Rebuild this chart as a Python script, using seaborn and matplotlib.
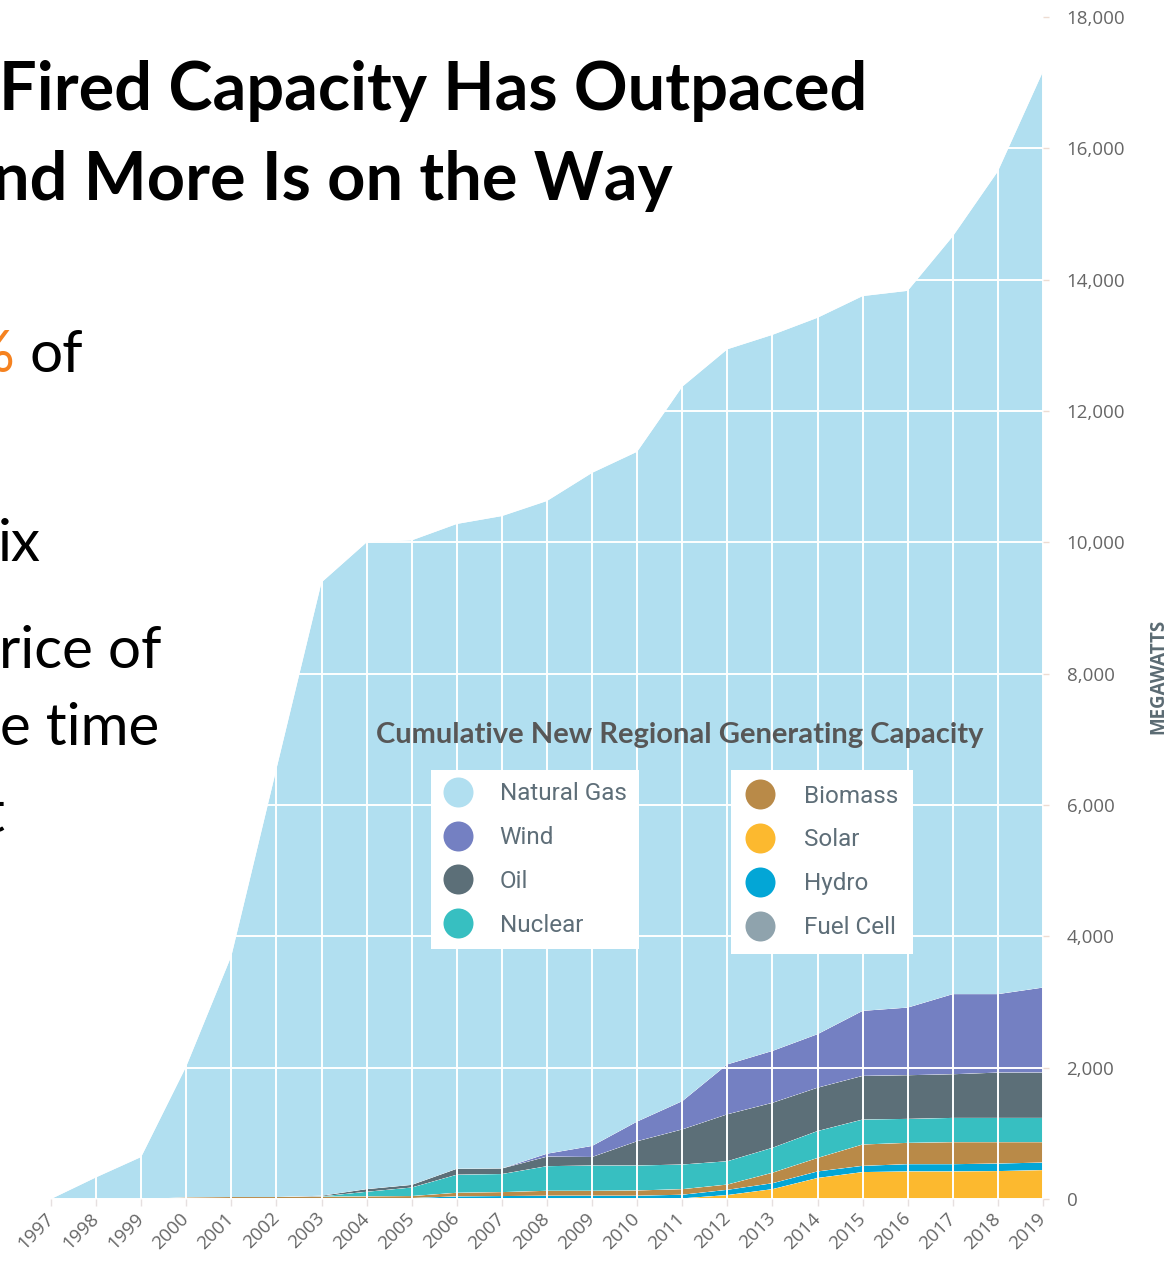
import matplotlib
matplotlib.use("Agg")
import matplotlib.pyplot as plt
from matplotlib.lines import Line2D
import pandas as pd
import seaborn as sns
import seaborn.objects as so

# ---------------- data ----------------
years = list(range(1997, 2020))
natural_gas = [0, 330, 640, 1995, 3670, 6520, 9340, 9850, 9815, 9820, 9935, 9940,
               10250, 10200, 10880, 10890, 10905, 10910, 10885, 10915, 11540, 12530, 13950]
wind = [0, 0, 0, 0, 0, 0, 0, 0, 0, 0, 0, 45, 168, 300, 430, 760, 790, 815, 990, 1030,
        1220, 1195, 1295]
oil = [0, 0, 0, 0, 0, 0, 10, 40, 40, 90, 85, 145, 130, 370, 535, 715, 685, 660, 665,
       665, 665, 690, 690]
nuclear = [0, 0, 0, 0, 0, 0, 5, 70, 130, 275, 275, 375, 385, 380, 375, 355, 380, 410,
           380, 365, 370, 370, 370]
biomass = [0, 0, 0, 20, 25, 25, 25, 30, 30, 55, 60, 75, 75, 80, 85, 80, 160, 205, 325,
           325, 335, 325, 310]
solar = [0, 0, 0, 0, 0, 0, 0, 0, 0, 0, 0, 0, 0, 0, 10, 60, 150, 320, 410, 420, 420,
         425, 440]
hydro = [0, 0, 0, 5, 5, 5, 10, 10, 15, 40, 45, 50, 50, 50, 55, 80, 90, 100, 95, 110,
         110, 115, 115]
fuel_cell = [0] * 23

legend_left = ["Natural Gas", "Wind", "Oil", "Nuclear"]
legend_right = ["Biomass", "Solar", "Hydro", "Fuel Cell"]
stack_order = ["Fuel Cell", "Solar", "Hydro", "Biomass", "Nuclear", "Oil", "Wind",
               "Natural Gas"]
y_ticks = list(range(0, 18001, 2000))

series = {"Natural Gas": natural_gas, "Wind": wind, "Oil": oil, "Nuclear": nuclear,
          "Biomass": biomass, "Solar": solar, "Hydro": hydro, "Fuel Cell": fuel_cell}
colors = {"Natural Gas": "#b1dff0", "Wind": "#7480c2", "Oil": "#5c6f78",
          "Nuclear": "#37bfc1", "Biomass": "#b98a48", "Solar": "#fcb92f",
          "Hydro": "#03a6d6", "Fuel Cell": "#8fa3ad"}

rows = []
for s in stack_order:
    for yr, v in zip(years, series[s]):
        rows.append((yr, s, v))
df = pd.DataFrame(rows, columns=["year", "source", "mw"])

# ---------------- figure ----------------
sns.set_theme(style="white")
plt.rcParams["font.family"] = ["Open Sans", "DejaVu Sans"]

W, H = 1175, 1261
fig = plt.figure(figsize=(W / 100, H / 100), dpi=100)
fig.patch.set_facecolor("white")


def fx(x):
    return x / W


def fy(y):
    return 1 - y / H


ax = fig.add_axes([fx(51), fy(1199), (1043 - 51) / W, (1199 - 17) / H])

(
    so.Plot(df, x="year", y="mw", color="source")
    .add(so.Area(alpha=1, edgewidth=0), so.Stack(), legend=False)
    .scale(color=so.Nominal(colors, order=stack_order))
    .on(ax)
    .plot()
)

ax.set_facecolor("white")
ax.set_xlim(1997, 2019)
ax.set_ylim(0, 18000)
ax.set_xlabel("")
ax.set_ylabel("")
for sp in ax.spines.values():
    sp.set_visible(False)

ax.set_xticks(years)
ax.set_xticklabels([str(y) for y in years], rotation=45, ha="right", va="center",
                   rotation_mode="anchor", fontsize=13.5, color="#666666")
ax.set_yticks(y_ticks)
ax.set_yticklabels([f"{v:,}" for v in y_ticks], fontsize=13.5, color="#666666")
ax.yaxis.tick_right()
ax.tick_params(axis="y", which="major", right=True, left=False, length=4,
               width=1, color="#eddcd2", pad=13)
ax.tick_params(axis="x", which="major", bottom=True, length=5, width=1,
               color="#e6e0e0", pad=7)
ax.grid(True, color="white", linewidth=1.4)
ax.set_axisbelow(False)

# axis title on right
fig.text(fx(1158), fy(676), "MEGAWATTS", rotation=90, ha="center", va="center",
         fontsize=13.5, fontweight="bold", color="#5b6b73")

# chart title
fig.text(fx(680), fy(735), "Cumulative New Regional Generating Capacity",
         ha="center", va="center", fontsize=21, fontweight="bold",
         color="#575757", family=["Lato", "DejaVu Sans"])

# legends
def handles(names):
    return [Line2D([], [], linestyle="", marker="o", markersize=21.6,
                   markerfacecolor=colors[n], markeredgewidth=0) for n in names]

common = dict(loc="upper left", frameon=True, fancybox=False, facecolor="white",
              edgecolor="none", framealpha=1, labelcolor="#5e6e78",
              prop={"family": ["Roboto", "DejaVu Sans"], "size": 17.5},
              handlelength=1.2, labelspacing=0.86, borderaxespad=0)
leg1 = fig.legend(handles(legend_left), legend_left,
                  bbox_to_anchor=(fx(431), fy(770)), borderpad=0.5,
                  handletextpad=1.12, **common)
fig.add_artist(leg1)
leg2 = fig.legend(handles(legend_right), legend_right,
                  bbox_to_anchor=(fx(731), fy(770)), borderpad=0.6,
                  handletextpad=1.2, **common)

# slide text (partially cropped at the left edge, as in the source slide)
title_font = dict(family=["Lato", "DejaVu Sans"], fontweight="bold", fontsize=48,
                  color="black", va="baseline")
body_font = dict(family=["Lato", "DejaVu Sans"], fontsize=42, color="black",
                 va="baseline")
fig.text(fx(-1), fy(110), "Fired Capacity Has Outpaced", ha="left", **title_font)
fig.text(fx(-8), fy(200), "nd More Is on the Way", ha="left", **title_font)
fig.text(fx(14), fy(372), "%", ha="right", **{**body_font, "color": "#f58220"})
fig.text(fx(30), fy(372), "of", ha="left", **body_font)
fig.text(fx(-2), fy(561), "ix", ha="left", **body_font)
fig.text(fx(-1), fy(668), "rice of", ha="left", **body_font)
fig.text(fx(0), fy(745), "e time", ha="left", **body_font)
fig.text(fx(5), fy(832), "t", ha="right", **body_font)

fig.savefig("out.png", dpi=100, facecolor="white")
